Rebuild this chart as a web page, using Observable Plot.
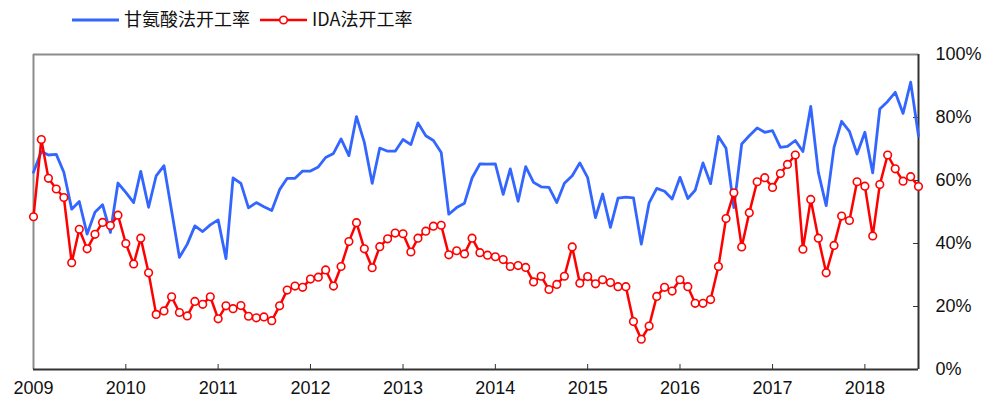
<!DOCTYPE html>
<html>
<head>
<meta charset="utf-8">
<script src="https://cdn.jsdelivr.net/npm/d3@7"></script>
<script src="https://cdn.jsdelivr.net/npm/@observablehq/plot@0.6"></script>
<style>
  html, body { margin: 0; padding: 0; background: #fff; }
  #wrap { width: 989px; height: 403px; position: relative; overflow: hidden; }
  #legend { position: relative; height: 40px; width: 989px; font-family: "Noto Sans CJK SC", "Noto Sans", sans-serif; font-size: 18px; color: #111; }
  .lg { position: absolute; top: 0; height: 40px; display: flex; align-items: center; }
  .lg svg { display: block; }
  .lg span { margin-left: 5px; line-height: 1; position: relative; top: -2px; }
</style>
</head>
<body>
<div id="wrap">
  <div id="legend"></div>
  <div id="chart"></div>
</div>
<script>
// ---- data (monthly, Jan 2009 – Aug 2018), % ----
const seriesNames = ["甘氨酸法开工率", "IDA法开工率"];
const glycineRate = [
  62.6, 69.2, 68.1, 68.3, 62.6, 50.9, 53.3, 43.0, 49.9, 52.3, 43.5, 59.2,
  56.2, 53.0, 62.9, 51.5, 61.5, 64.7, 50.4, 35.6, 39.8, 45.6, 43.8, 45.9,
  47.5, 35.2, 60.8, 59.1, 51.3, 53.0, 51.7, 50.5, 57.1, 60.7, 60.7, 63.0,
  63.0, 64.3, 67.3, 68.6, 73.2, 67.9, 80.3, 72.1, 59.1, 70.3, 69.3, 69.3,
  73.0, 71.4, 78.3, 74.2, 72.7, 68.9, 49.3, 51.4, 52.8, 60.8, 65.3, 65.2,
  65.3, 55.6, 63.7, 53.4, 64.4, 59.4, 58.0, 57.8, 53.0, 59.1, 61.5, 65.6,
  60.9, 48.2, 55.7, 45.1, 54.4, 54.7, 54.5, 39.8, 52.9, 57.5, 56.6, 54.1,
  61.0, 54.3, 56.9, 65.6, 59.0, 74.0, 70.2, 51.4, 71.6, 74.2, 76.7, 75.3,
  75.8, 70.5, 70.8, 72.7, 69.2, 83.5, 62.6, 52.0, 70.5, 78.8, 75.6, 68.4,
  75.3, 62.4, 82.7, 85.1, 88.0, 81.3, 91.2, 74.2
];
const idaRate = [
  48.5, 73.0, 60.7, 57.3, 54.6, 33.9, 44.5, 38.3, 42.9, 46.7, 45.7, 49.0,
  40.0, 33.5, 41.7, 30.7, 17.5, 18.6, 23.1, 18.1, 17.0, 21.6, 20.7, 23.1,
  16.1, 20.2, 19.3, 20.3, 16.9, 16.4, 16.7, 15.5, 20.2, 25.2, 26.5, 26.1,
  28.7, 29.3, 31.6, 26.5, 32.7, 40.6, 46.6, 38.3, 32.3, 39.0, 41.5, 43.3,
  43.1, 37.3, 41.7, 43.9, 45.5, 45.8, 36.4, 37.7, 36.7, 41.7, 37.1, 36.3,
  35.8, 34.9, 32.7, 33.0, 32.4, 27.8, 29.6, 25.4, 27.0, 29.6, 38.9, 27.4,
  29.5, 27.2, 28.5, 27.6, 26.3, 26.3, 15.2, 9.6, 13.8, 23.2, 26.1, 24.9,
  28.5, 26.3, 21.0, 21.0, 22.2, 32.7, 47.9, 56.1, 38.9, 49.8, 59.6, 60.9,
  57.8, 62.2, 65.1, 68.1, 38.2, 54.0, 41.7, 30.7, 39.4, 48.7, 47.3, 59.6,
  58.2, 42.4, 58.7, 68.1, 63.7, 59.8, 61.2, 58.1
];
const yearLabels = ["2009","2010","2011","2012","2013","2014","2015","2016","2017","2018"];
const yTicks = [0, 20, 40, 60, 80, 100];

// ---- build table ----
const startYear = 2009, startMonth = 0;
const dates = glycineRate.map((_, i) => new Date(Date.UTC(startYear, startMonth + i, 1)));
const blueData = glycineRate.map((v, i) => ({date: dates[i], value: v}));
const redData = idaRate.map((v, i) => ({date: dates[i], value: v}));
const yearDates = yearLabels.map(y => new Date(Date.UTC(+y, 0, 1)));
const xStart = dates[0], xEnd = dates[dates.length - 1];

const BLUE = "#3366ff", RED = "#ff0000";

// ---- legend ----
const legend = document.getElementById("legend");
legend.innerHTML = `
  <div class="lg" style="left:72px">
    <svg width="47" height="10"><line x1="0" x2="47" y1="5" y2="5" stroke="${BLUE}" stroke-width="3"/></svg>
    <span>${seriesNames[0]}</span>
  </div>
  <div class="lg" style="left:260px">
    <svg width="47" height="10"><line x1="0" x2="47" y1="5" y2="5" stroke="${RED}" stroke-width="2.5"/><circle cx="23.5" cy="5" r="3.8" fill="#fff" stroke="${RED}" stroke-width="1.6"/></svg>
    <span>${seriesNames[1]}</span>
  </div>`;

// ---- chart ----
const chart = Plot.plot({
  width: 989,
  height: 363,
  marginTop: 14,
  marginBottom: 34,
  marginLeft: 33,
  marginRight: 71,
  style: {fontFamily: "'Liberation Sans', Arial, sans-serif", fontSize: "18px", color: "#111", background: "#fff"},
  x: {type: "utc", domain: [xStart, xEnd]},
  y: {domain: [0, 100]},
  marks: [
    // frame
    Plot.ruleY([100], {stroke: "#8c8c8c", strokeWidth: 2}),
    Plot.ruleX([xStart], {stroke: "#8c8c8c", strokeWidth: 2}),
    Plot.ruleY([0], {stroke: "#333", strokeWidth: 2}),
    Plot.ruleX([xEnd], {stroke: "#333", strokeWidth: 2}),
    // inward ticks
    Plot.ruleX(yearDates.slice(1), {x: d => d, y1: 0, y2: 0, insetBottom: 5, stroke: "#333", strokeWidth: 1}),
    Plot.ruleY(yTicks.slice(1, -1), {y: d => d, x1: xEnd, x2: xEnd, insetRight: 5, stroke: "#333", strokeWidth: 1}),
    // axes labels
    Plot.axisX({ticks: yearDates, tickFormat: d => String(d.getUTCFullYear()), tickSize: 0, tickPadding: 12, label: null}),
    Plot.axisY({anchor: "right", ticks: yTicks, tickFormat: d => d + "%", tickSize: 0, tickPadding: 17, textAnchor: "start", label: null}),
    // series
    Plot.line(blueData, {x: "date", y: "value", stroke: BLUE, strokeWidth: 2.8, curve: "linear"}),
    Plot.line(redData, {x: "date", y: "value", stroke: RED, strokeWidth: 2.5, curve: "linear"}),
    Plot.dot(redData, {x: "date", y: "value", r: 3.8, fill: "#fff", stroke: RED, strokeWidth: 1.6})
  ]
});
document.getElementById("chart").appendChild(chart);
</script>
</body>
</html>
